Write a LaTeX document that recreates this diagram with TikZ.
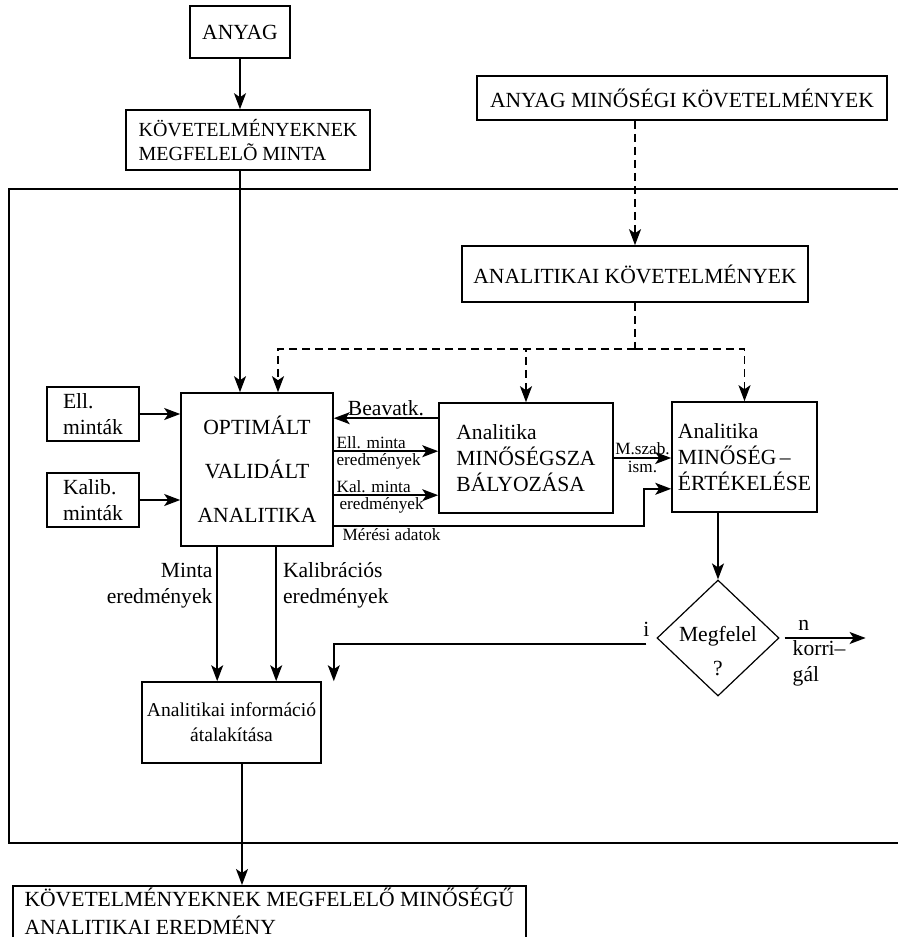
\documentclass[tikz,border=0pt]{standalone}
\usepackage{fontspec}
\setmainfont{Liberation Serif}
\usetikzlibrary{arrows.meta,positioning,calc,shapes.geometric}
\newcommand{\fmain}{\fontsize{10.8}{13}\selectfont}
\newcommand{\fsmall}{\fontsize{8.6}{9.5}\selectfont}

\begin{document}
\begin{tikzpicture}[x=0.5pt,y=-0.5pt,>={Stealth[length=8pt,width=6pt,inset=2pt]},font=\fmain,
  box/.style={draw,line width=0.8pt,align=center,inner sep=0pt},
  arr/.style={->,line width=0.8pt},
  dline/.style={line width=0.8pt,dash pattern=on 4pt off 2.5pt},
  darr/.style={dline,->},
  lab/.style={font=\fsmall,inner sep=1pt},
  dec/.style={draw,diamond,line width=0.6pt,minimum width=61pt,minimum height=58pt,inner sep=0pt}]
\useasboundingbox (0,0) rectangle (898,937);
\node[box,minimum width=50pt,minimum height=26pt] (anyag) at (240,32) {ANYAG};
\node[box,minimum width=122pt,minimum height=30pt,align=left,font=\fontsize{10}{12}\selectfont] (minta) at (248,140) {KÖVETELMÉNYEKNEK\\MEGFELELÕ MINTA};
\node[box,minimum width=205pt,minimum height=22pt] (anymin) at (682,98) {ANYAG MINŐSÉGI KÖVETELMÉNYEK};
\node[box,minimum width=173pt,minimum height=28pt] (analkov) at (635,274) {ANALITIKAI KÖVETELMÉNYEK};
\node[box,minimum width=76pt,minimum height=76.5pt] (optim) at (257,469.5) {OPTIMÁLT\\[9pt]VALIDÁLT\\[9pt]ANALITIKA};
\node[box,minimum width=46pt,minimum height=27pt,align=left] (ell) at (93,414) {Ell.\\minták};
\node[box,minimum width=46pt,minimum height=27pt,align=left] (kalib) at (93,500) {Kalib.\\minták};
\node[box,minimum width=87pt,minimum height=55pt,align=left] (szab) at (526,458) {Analitika\\MINŐSÉGSZA\\BÁLYOZÁSA};
\node[box,minimum width=72.5pt,minimum height=55pt,align=left] (ertek) at (744.5,457) {Analitika\\MINŐSÉG\,--\\ÉRTÉKELÉSE};
\node[dec] (dia) at (718,638) {};
\node[align=center,inner sep=0pt] (diatxt) at ($(dia)+(0,13)$) {Megfelel\\[4pt]?};
\node[box,minimum width=89.5pt,minimum height=40.5pt,font=\fontsize{9.8}{12.5}\selectfont] (info) at (231.5,722.5) {Analitikai információ\\átalakítása};
\node[box,anchor=north west,align=left,minimum width=256.5pt,inner ysep=1pt,font=\fontsize{10.8}{14}\selectfont] (final) at (12,885) {KÖVETELMÉNYEKNEK MEGFELELŐ MINŐSÉGŰ\\ANALITIKAI EREDMÉNY\rule[-10pt]{0pt}{10pt}};
\coordinate (ftl) at (9,189);
\coordinate (ftr) at (930,189);
\coordinate (fbl) at (9,843);
\coordinate (fbr) at (930,843);
\draw[line width=0.8pt] (ftr) -- (ftl) -- (fbl) -- (fbr);
\draw[arr] (anyag) -- (minta.north -| anyag);
\draw[arr] (minta.south -| anyag) -- (optim.north -| anyag);
\draw[darr] (anymin.south -| analkov) -- (analkov);
\coordinate (split) at ($(analkov.south)+(0,46)$);
\draw[dline] (analkov) -- (split);
\draw[darr] (split) -| ($(optim.north)+(21,0)$);
\draw[darr] (split) -| (szab.north);
\draw[darr] (split) -| (ertek.north);
\draw[arr] (ell) -- (ell -| optim.west);
\draw[arr] (kalib) -- (kalib -| optim.west);
\coordinate (bv) at ($(szab.north west)+(0,16)$);
\draw[arr] (bv) -- (bv -| optim.east) node[midway,above,inner sep=1pt] {Beavatk.};
\coordinate (ellres) at ($(szab.north west)+(0,49)$);
\draw[arr] (ellres -| optim.east) -- (ellres) node[pos=0,above right,lab] {Ell. minta} node[pos=0,below right,lab] {eredmények};
\coordinate (kalres) at ($(szab.north west)+(0,93)$);
\draw[arr] (kalres -| optim.east) -- (kalres) node[pos=0,above right,lab] {Kal. minta} node[pos=0,below right,lab,xshift=1.5pt] {eredmények};
\draw[arr] (szab) -- (szab -| ertek.west) node[midway,above,lab] {M.szab.} node[midway,below,lab] {ism.};
\coordinate (mstart) at ($(optim.south east)+(0,-21)$);
\coordinate (mend) at ($(ertek.south west)+(0,-24)$);
\draw[arr] (mstart) node[below right,lab,xshift=3pt] {Mérési adatok} -| ($(mend)+(-27,0)$) -- (mend);
\draw[arr] (ertek.south -| dia) -- (dia);
\coordinate (iout) at ($(dia.west)+(-10,6)$);
\draw[arr] (iout) -| (info.north -| optim.east) node[pos=0,above] {i};
\coordinate (nend) at ($(dia.east)+(86,0)$);
\draw[arr,shorten <=2.5pt] (dia) -- (nend) node[pos=0.28,above] {n} node[pos=0.12,below right,align=left,inner sep=1pt] {korri--\\gál};
\coordinate (mout) at ($(optim.south west)+(37,0)$);
\coordinate (kout) at ($(optim.south west)+(96,0)$);
\draw[arr] (mout) -- (mout |- info.north) node[pos=0.29,left,align=right,inner sep=2pt] {Minta\\eredmények};
\draw[arr] (kout) -- (kout |- info.north) node[pos=0.29,right,align=left,inner sep=3pt] {Kalibrációs\\eredmények};
\coordinate (infoout) at ($(info.south)+(10.5,0)$);
\draw[arr] (infoout) -- (infoout |- final.north);
\end{tikzpicture}
\end{document}
